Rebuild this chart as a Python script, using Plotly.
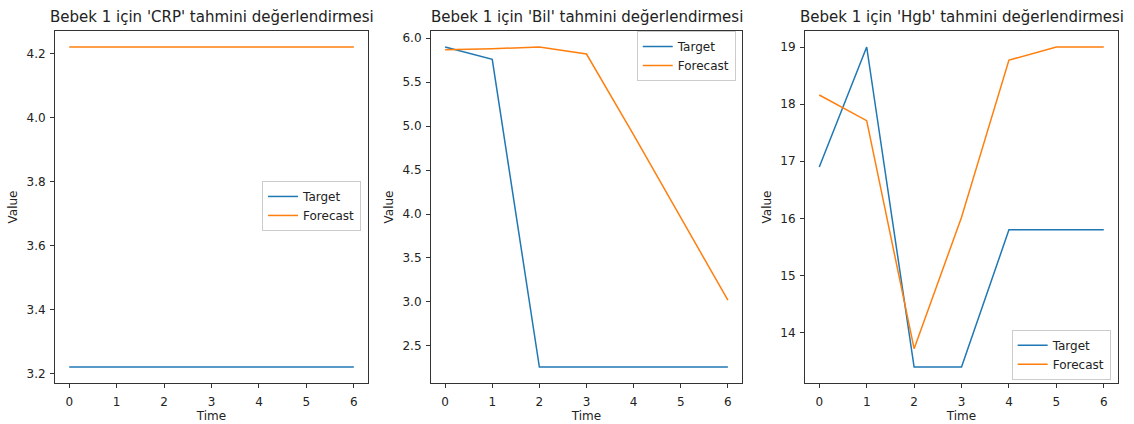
import plotly.graph_objects as go

time = [0, 1, 2, 3, 4, 5, 6]
crp_target = [3.22, 3.22, 3.22, 3.22, 3.22, 3.22, 3.22]
crp_forecast = [4.22, 4.22, 4.22, 4.22, 4.22, 4.22, 4.22]
bil_target = [5.90, 5.76, 2.26, 2.26, 2.26, 2.26, 2.26]
bil_forecast = [5.87, 5.88, 5.90, 5.82, 4.90, 3.96, 3.02]
hgb_target = [16.90, 19.00, 13.40, 13.40, 15.80, 15.80, 15.80]
hgb_forecast = [18.16, 17.71, 13.72, 16.02, 18.77, 19.00, 19.00]

titles = ["Bebek 1 için 'CRP' tahmini değerlendirmesi",
          "Bebek 1 için 'Bil' tahmini değerlendirmesi",
          "Bebek 1 için 'Hgb' tahmini değerlendirmesi"]

BLUE = "#1f77b4"
ORANGE = "#ff7f0e"
FONT = "DejaVu Sans"

fig = go.Figure()
panels = [(crp_target, crp_forecast), (bil_target, bil_forecast), (hgb_target, hgb_forecast)]
legends = ["legend", "legend2", "legend3"]
for i, (tg, fc) in enumerate(panels):
    ax = "" if i == 0 else str(i + 1)
    fig.add_trace(go.Scatter(x=time, y=tg, mode="lines", name="Target",
                             line=dict(color=BLUE, width=1.5),
                             xaxis="x" + ax, yaxis="y" + ax, legend=legends[i]))
    fig.add_trace(go.Scatter(x=time, y=fc, mode="lines", name="Forecast",
                             line=dict(color=ORANGE, width=1.5),
                             xaxis="x" + ax, yaxis="y" + ax, legend=legends[i]))

domains = [[0.0, 0.2945], [0.3537, 0.6463], [0.7056, 1.0]]
yranges = [[3.17, 4.27], [2.078, 6.082], [13.12, 19.28]]
ytick_sets = [
    [3.2, 3.4, 3.6, 3.8, 4.0, 4.2],
    [2.5, 3.0, 3.5, 4.0, 4.5, 5.0, 5.5, 6.0],
    [14, 15, 16, 17, 18, 19],
]
ytick_text = [
    ["3.2", "3.4", "3.6", "3.8", "4.0", "4.2"],
    ["2.5", "3.0", "3.5", "4.0", "4.5", "5.0", "5.5", "6.0"],
    ["14", "15", "16", "17", "18", "19"],
]

axis_common = dict(showline=True, linecolor="#333333", linewidth=1, mirror=True,
                   ticks="outside", ticklen=4, tickcolor="#333333", showgrid=False,
                   zeroline=False, automargin=False,
                   tickfont=dict(family=FONT, size=12, color="#222222"))

layout = dict(
    width=1134, height=424,
    margin=dict(l=55, r=16, t=31, b=41),
    plot_bgcolor="white", paper_bgcolor="white",
    font=dict(family=FONT, size=12, color="#222222"),
)
for i in range(3):
    ax = "" if i == 0 else str(i + 1)
    layout["xaxis" + ax] = dict(domain=domains[i], range=[-0.3, 6.3], tickvals=time,
                                anchor="y" + ax, ticklabelstandoff=4,
                                title=dict(text="Time", font=dict(family=FONT, size=12), standoff=3),
                                **axis_common)
    layout["yaxis" + ax] = dict(domain=[0, 1], range=yranges[i], tickvals=ytick_sets[i],
                                ticktext=ytick_text[i], anchor="x" + ax, ticklabelstandoff=2,
                                title=dict(text="Value", font=dict(family=FONT, size=12), standoff=6),
                                **axis_common)

fig.update_layout(**layout)

leg_common = dict(bgcolor="white", bordercolor="#cccccc", borderwidth=1,
                  font=dict(family=FONT, size=12, color="#222222"),
                  xref="paper", yref="paper", tracegroupgap=0)
fig.update_layout(
    legend=dict(x=0.2879, y=0.574, xanchor="right", yanchor="top", **leg_common),
    legend2=dict(x=0.6404, y=1.0, xanchor="right", yanchor="top", **leg_common),
    legend3=dict(x=0.9931, y=0.009, xanchor="right", yanchor="bottom", **leg_common),
)

for i in range(3):
    xd = "x domain" if i == 0 else "x%d domain" % (i + 1)
    fig.add_annotation(text=titles[i], xref=xd, yref="paper", x=0.5, y=1.0,
                       xanchor="center", yanchor="bottom", yshift=3, showarrow=False,
                       font=dict(family=FONT, size=15, color="#222222"))

fig.write_html("out.html")
